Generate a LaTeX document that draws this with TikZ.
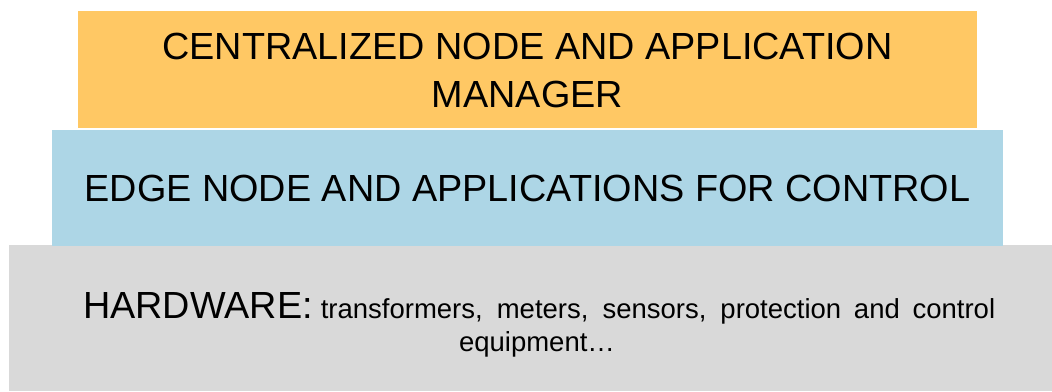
\documentclass[tikz,border=0pt]{standalone}
\usepackage{fontspec}
\setmainfont{Liberation Sans}
\definecolor{mgrfill}{RGB}{255,200,100}
\definecolor{edgefill}{RGB}{173,214,230}
\definecolor{hwfill}{RGB}{217,217,217}
\tikzset{
  layer/.style={draw=none, inner sep=0pt, anchor=south west},
  bigcaps/.style={anchor=base, inner sep=0pt, font=\fontsize{37.8}{45}\selectfont},
  smalltxt/.style={anchor=base, inner sep=0pt, font=\fontsize{27.5}{33}\selectfont}
}
\begin{document}
\begin{tikzpicture}[x=1pt,y=1pt]
\useasboundingbox (0,0) rectangle (1052,391);
% stacked layers, bottom to top
\node[layer, fill=hwfill, minimum width=1043pt, minimum height=146pt] (hw) at (9,0) {};
\node[layer, fill=edgefill, minimum width=951pt, minimum height=116pt] (edge) at (52,145) {};
\node[layer, fill=mgrfill, minimum width=899pt, minimum height=117pt] (mgr) at (78,263) {};
% labels
\node[bigcaps] (mgrA) at (527.5,331) {CENTRALIZED NODE AND APPLICATION};
\node[bigcaps] (mgrB) at (527.5,283) {MANAGER};
\node[bigcaps] (edgeT) at (527.5,189) {EDGE NODE AND APPLICATIONS FOR CONTROL};
% justified first line of the hardware text
\node[anchor=base west, inner sep=0pt] (hwA) at (83,72)
  {\makebox[912pt][s]{{\fontsize{37.8}{45}\selectfont HARDWARE:}\kern8pt\fontsize{27.5}{33}\selectfont transformers, meters, sensors, protection and control}};
\node[smalltxt] (hwB) at (537,39) {equipment\ldots};
\end{tikzpicture}
\end{document}
